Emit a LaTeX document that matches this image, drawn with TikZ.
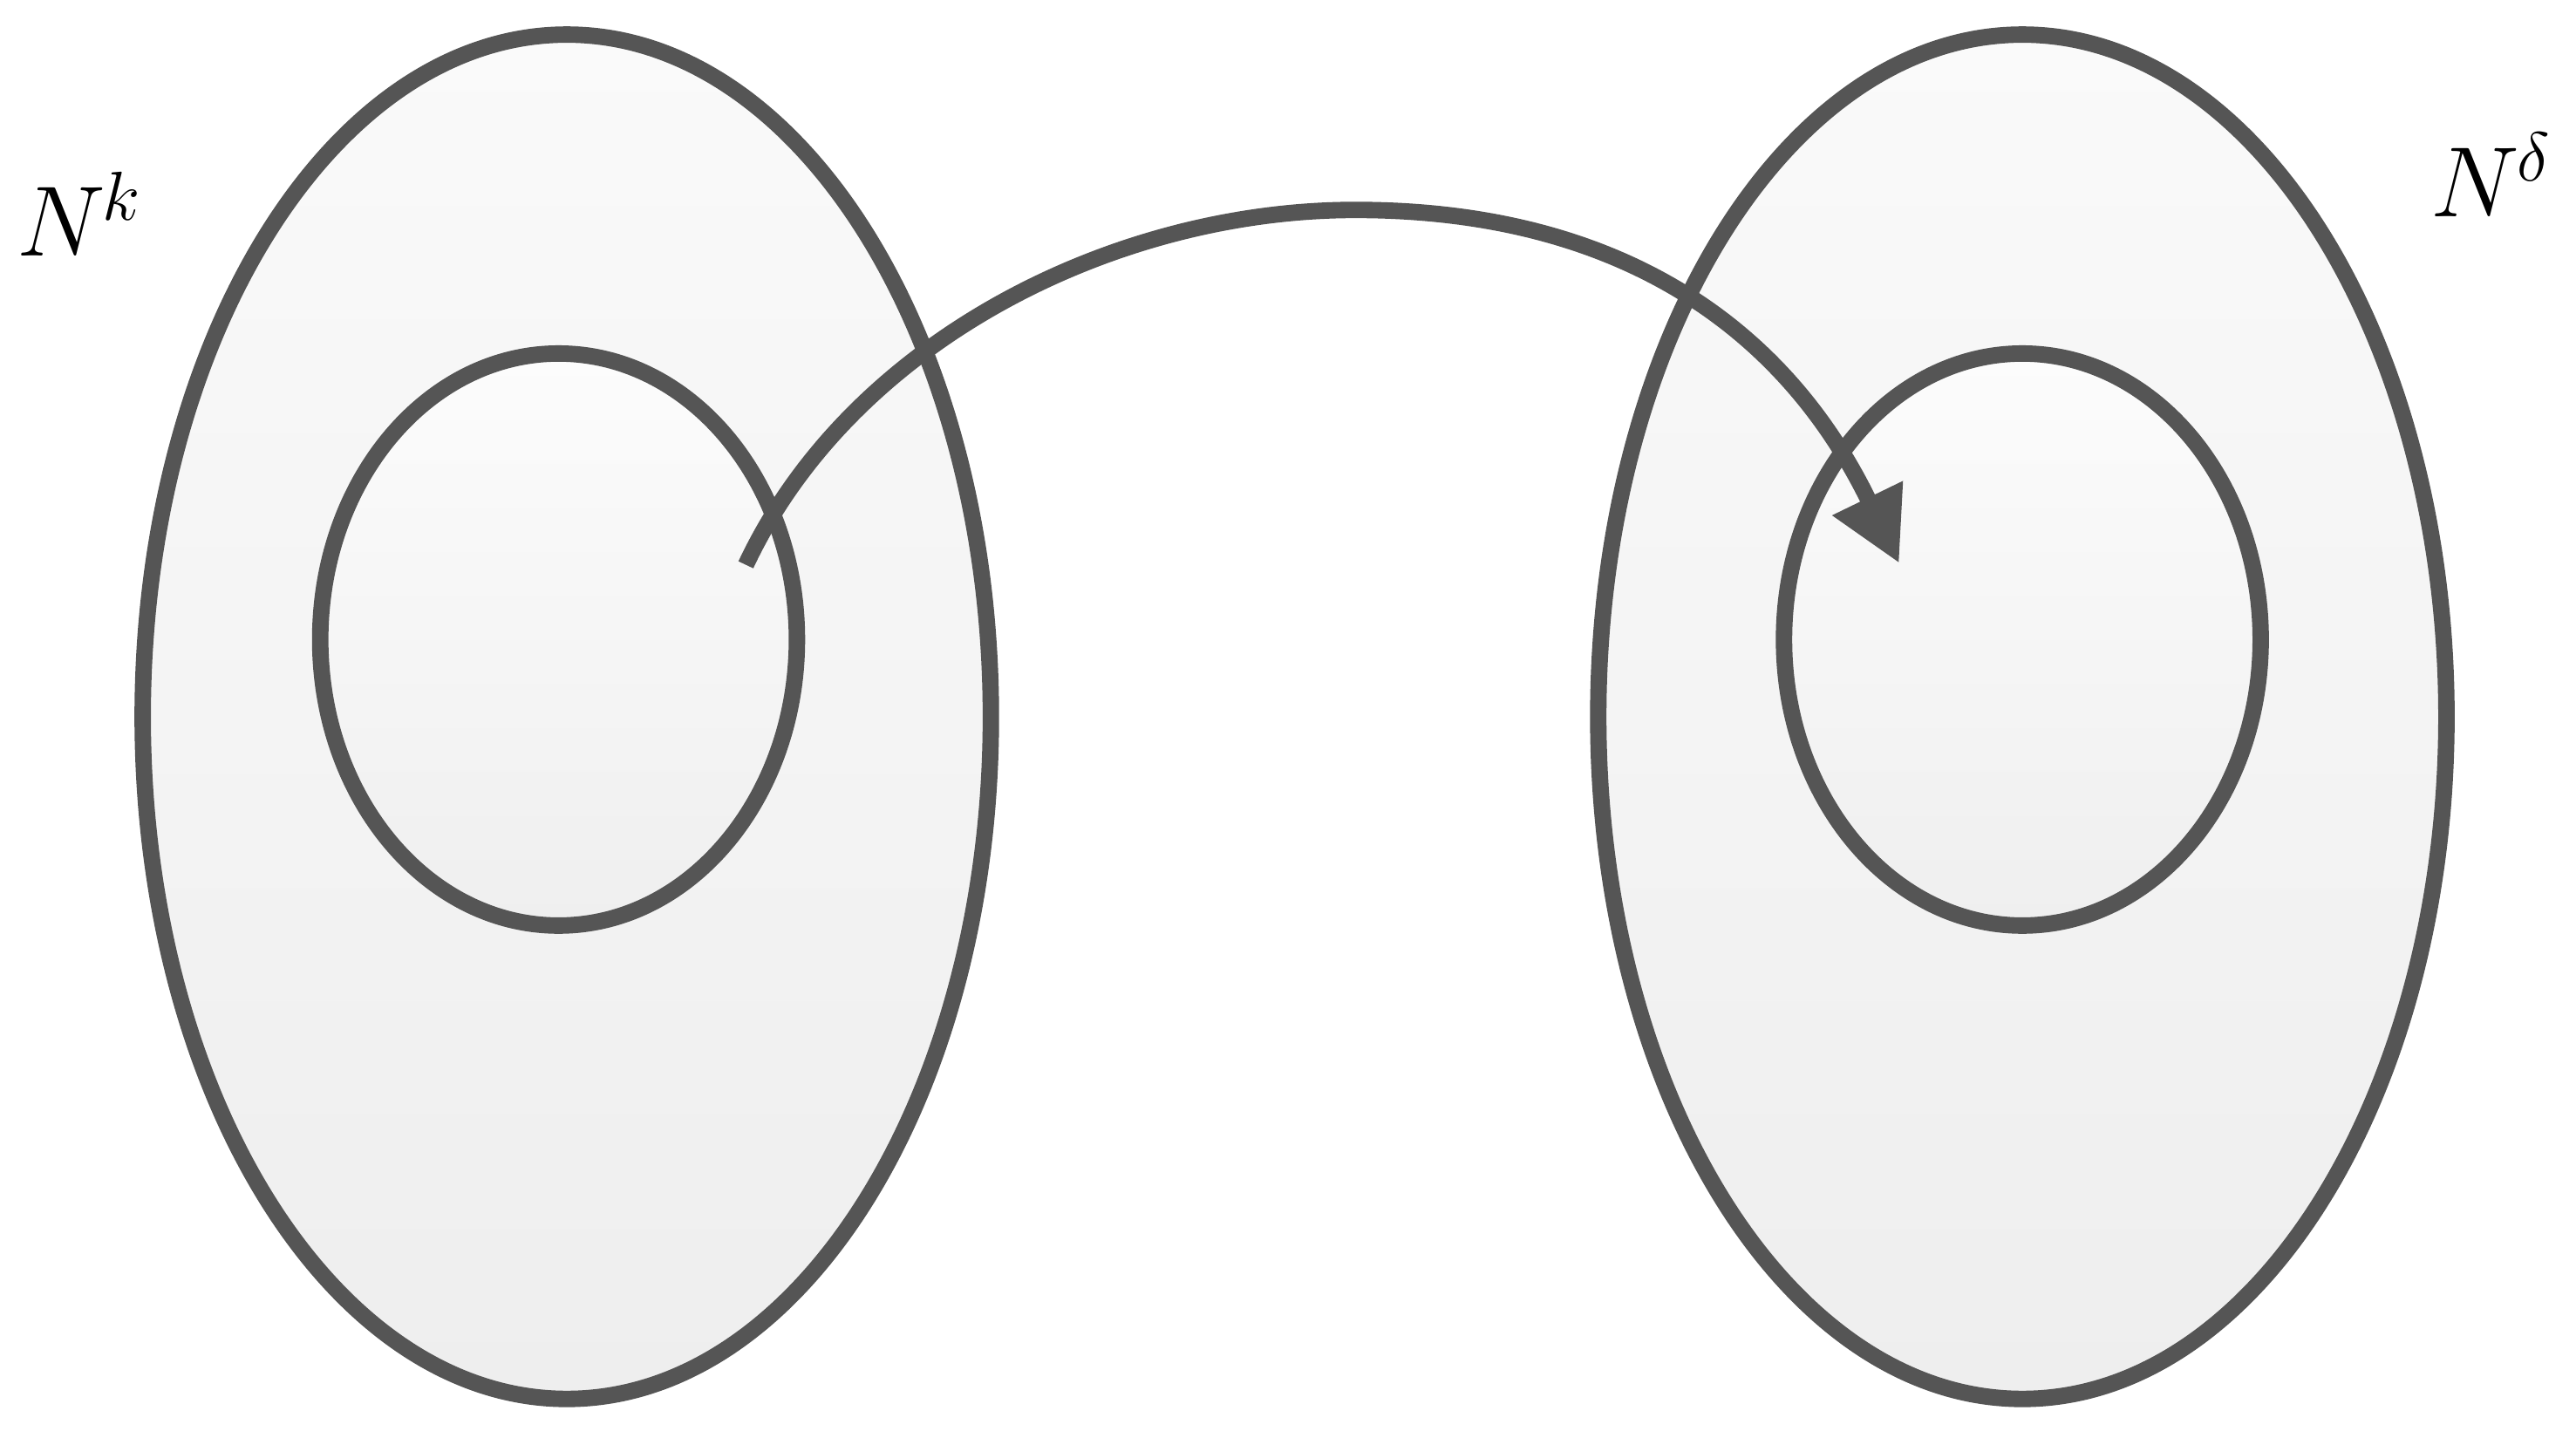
\documentclass[tikz,border=0pt]{standalone}
\usepackage{fontspec}
\setmainfont{Liberation Serif}
\DeclareMathSizes{19}{19}{12}{9}
\usetikzlibrary{shapes.geometric,arrows.meta}
\definecolor{edgegray}{HTML}{555555}
\definecolor{topfill}{HTML}{FAFAFA}
\definecolor{botfill}{HTML}{EEEEEE}
\definecolor{innertop}{HTML}{FCFCFC}
\definecolor{innerbot}{HTML}{EFEFEF}
\tikzset{
  outerset/.style={ellipse, draw=edgegray, line width=0.1cm, inner sep=0pt,
    minimum width=5.16cm, minimum height=8.30cm, top color=topfill, bottom color=botfill},
  innerset/.style={ellipse, draw=edgegray, line width=0.1cm, inner sep=0pt,
    minimum width=2.90cm, minimum height=3.48cm, top color=innertop, bottom color=innerbot},
  setlabel/.style={anchor=base west, inner sep=0pt, text=black,
    font=\fontsize{19}{23}\selectfont},
  maparrow/.style={draw=edgegray, line width=0.1cm,
    -{Triangle[length=0.44cm, width=0.45cm]}}
}
\newcommand{\supscr}[1]{\raisebox{6.2pt}{$\scriptstyle #1$}}
\begin{document}
\begin{tikzpicture}[x=0.01cm,y=0.01cm]
\useasboundingbox (0,0) rectangle (1568,874.8);
\node[outerset] (Lout) at (345,438.5) {};
\node[outerset] (Rout) at (1231,438.5) {};
\node[innerset] (Lin) at (340,485.5) {};
\node[innerset] (Rin) at (1231,485.5) {};
\node[setlabel] (Lk) at (9.5,719) {$N$\kern-0.5pt\supscr{k}};
\node[setlabel] (Rd) at (1479,743) {$N$\kern-0.5pt\supscr{\delta}};
\coordinate (S) at (454,531);
\coordinate (T) at (825,747);
\coordinate (E) at (1156,532);
\draw[maparrow] (S) .. controls (518,667) and (678,747) .. (T)
  .. controls (985,747) and (1086,676) .. (E);
\end{tikzpicture}
\end{document}
